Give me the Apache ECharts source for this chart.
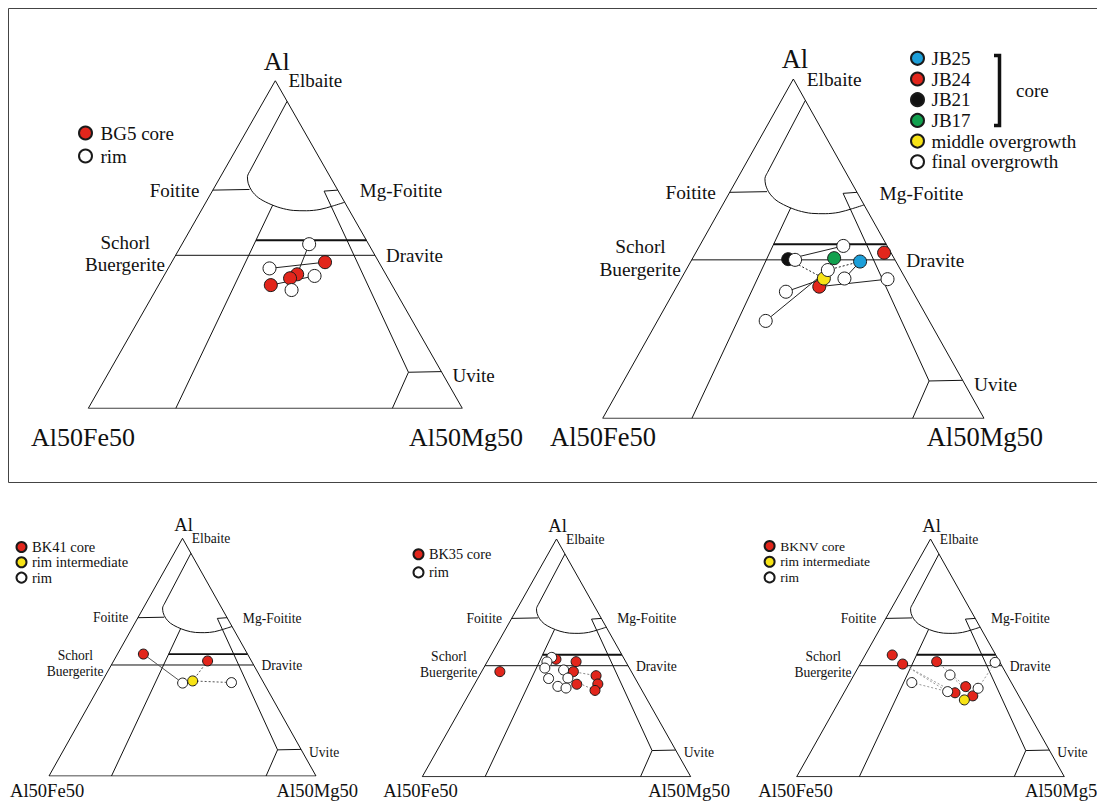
<!DOCTYPE html>
<html>
<head>
<meta charset="utf-8">
<script src="https://cdn.jsdelivr.net/npm/echarts@6/dist/echarts.min.js"></script>
<style>
html,body{margin:0;padding:0;background:#fff;}
#chart{width:1097px;height:802px;}
</style>
</head>
<body>
<div id="chart"></div>
<script>
// Tourmaline Al – Al50Fe50 – Al50Mg50 ternary diagrams.
// Every composition is written as [Al, Fe, Mg] in percent of the ternary.

// ---- corner and field names ----
const apexNames = ['Al', 'Al50Fe50', 'Al50Mg50'];
const fieldNames = ['Elbaite', 'Foitite', 'Mg-Foitite', 'Schorl', 'Buergerite', 'Dravite', 'Uvite'];

// ---- field boundaries ----
const outline = [[100, 0, 0], [0, 100, 0], [0, 0, 100], [100, 0, 0]];
const elbaiteEdge = [[93.7, 0, 6.3], [72.4, 20.6, 7.0]];
const foititeArc = [
  [72.4, 20.6, 7.0], [70.7, 22.1, 7.2], [68.7, 22.9, 8.4], [66.4, 23.1, 10.5],
  [64.3, 22.4, 13.3], [62.6, 20.6, 16.8], [61.2, 18.1, 20.7], [60.4, 15.0, 24.6],
  [60.3, 11.5, 28.2], [60.7, 7.7, 31.6], [61.8, 3.6, 34.6], [62.9, 0, 37.1]
];
const foititeTie = [[66.6, 33.4, 0], [66.8, 23.5, 9.7]];
const schorlDraviteSplit = [[62.0, 19.7, 18.3], [0, 76.6, 23.4]];
const mgFoititeTop = [[66.3, 3.8, 29.9], [66.6, 0, 33.4]];
const uviteEdge = [[66.3, 3.8, 29.9], [11.0, 8.9, 80.1]];
const uviteTop = [[11.0, 8.9, 80.1], [11.2, 0, 88.8]];
const uviteBase = [[11.0, 8.9, 80.1], [0, 18.7, 81.3]];
const upperDivide = [[51.3, 29.5, 19.2], [51.3, 0, 48.7]];
const lowerDivide = [[46.7, 53.3, 0], [46.7, 0, 53.3]];

// ---- BG5 ----
const bg5Core = [[44.6, 14.4, 41.0], [40.9, 23.7, 35.4], [39.7, 26.2, 34.1], [37.6, 32.4, 30.0]];
const bg5Rim = [[50.1, 15.9, 34.0], [42.7, 30.2, 27.1], [40.4, 19.3, 40.3], [36.1, 27.6, 36.3]];
const bg5Solid = [[bg5Rim[0], bg5Core[1]], [bg5Rim[1], bg5Core[0]], [bg5Core[3], bg5Rim[2]]];

// ---- JB series ----
const jb25Core = [[46.2, 9.4, 44.4]];
const jb24Core = [[48.8, 1.8, 49.4], [38.8, 23.8, 37.4]];
const jb21Core = [[46.9, 27.9, 25.2]];
const jb17Core = [[47.2, 15.7, 37.1]];
const jbMiddle = [[41.2, 21.4, 37.4]];
const jbFinal = [
  [50.8, 11.5, 37.7], [46.7, 26.2, 27.1], [43.7, 19.1, 37.2], [41.2, 16.0, 42.8],
  [41.0, 4.8, 54.2], [37.3, 33.3, 29.4], [28.7, 42.9, 28.4]
];
const jbSolid = [
  [jb21Core[0], jbFinal[0]], [jb17Core[0], jbFinal[2]], [jbFinal[5], jbMiddle[0]],
  [jbFinal[6], jbFinal[2]], [jb25Core[0], jbFinal[3]], [jb24Core[1], jbFinal[4]]
];
const jbDotted = [[jb21Core[0], jbMiddle[0]], [jb25Core[0], jbFinal[2]]];

// ---- BK41 ----
const bk41Core = [[51.3, 39.0, 9.7], [48.4, 16.4, 35.2]];
const bk41Inter = [[40.0, 26.2, 33.8]];
const bk41Rim = [[39.1, 30.4, 30.5], [39.3, 12.0, 48.7]];
const bk41Solid = [[bk41Core[0], bk41Rim[0]]];
const bk41Dotted = [[bk41Core[1], bk41Inter[0]], [bk41Inter[0], bk41Rim[1]]];

// ---- BK35 ----
const bk35Core = [
  [44.2, 49.0, 6.8], [49.4, 25.5, 25.1], [48.4, 18.5, 33.1], [44.2, 21.6, 34.2],
  [42.5, 14.0, 43.5], [39.0, 15.1, 45.9], [36.3, 17.5, 46.2], [38.9, 23.0, 38.1]
];
const bk35Rim = [
  [50.2, 26.7, 23.1], [48.3, 29.4, 22.3], [45.7, 31.5, 22.8], [44.9, 24.9, 30.2],
  [41.3, 32.3, 26.4], [41.5, 25.0, 33.5], [38.0, 30.5, 31.5], [37.3, 27.8, 34.9]
];
const bk35Dotted = [[bk35Rim[3], bk35Core[4]], [bk35Rim[5], bk35Core[6]]];

// ---- BKNV ----
const bknvCore = [
  [51.2, 38.7, 10.1], [47.4, 36.7, 15.9], [48.4, 23.5, 28.1],
  [37.9, 17.9, 44.2], [35.3, 23.2, 41.5], [34.0, 17.2, 48.8]
];
const bknvInter = [[32.3, 21.2, 46.5]];
const bknvRim = [[48.1, 1.8, 50.1], [42.8, 21.3, 35.9], [39.6, 37.2, 23.2], [35.8, 25.7, 38.5], [37.2, 13.6, 49.2]];
const bknvDotted = [
  [bknvCore[1], bknvRim[3]], [bknvCore[1], bknvCore[4]], [bknvCore[2], bknvCore[3]],
  [bknvRim[2], bknvRim[3]], [bknvRim[1], bknvCore[5]], [bknvRim[4], bknvRim[0]]
];

// ---- styling ----
const FONT = 'Liberation Serif, Times New Roman, serif';
const INK = '#111111';
const RED = '#e2261c', BLUE = '#1c9fd9', BLACK = '#111111', GREEN = '#12a04e', YELLOW = '#f7e316', WHITE = '#ffffff';

// panel layout: triangle bounding box [left, top, width, height] in px
const panels = [
  {
    box: [88.3, 80.7, 374, 327.6], sym: 13,
    corners: { fe: [31, 437], mg: [523, 437] },
    groups: [
      { name: 'BG5 core', pts: bg5Core, color: RED },
      { name: 'rim', pts: bg5Rim, color: WHITE }
    ],
    solid: bg5Solid, dotted: [], tieColor: '#222',
    legend: { left: 78, top: 123.5, w: 20, h: 13, gap: 4, size: 19 }
  },
  {
    box: [602.7, 79, 381.3, 339.3], sym: 13,
    corners: { fe: [550, 437], mg: [1043, 437] },
    groups: [
      { name: 'JB25', pts: jb25Core, color: BLUE },
      { name: 'JB24', pts: jb24Core, color: RED },
      { name: 'JB21', pts: jb21Core, color: BLACK },
      { name: 'JB17', pts: jb17Core, color: GREEN },
      { name: 'middle overgrowth', pts: jbMiddle, color: YELLOW },
      { name: 'final overgrowth', pts: jbFinal, color: WHITE }
    ],
    solid: jbSolid, dotted: jbDotted, tieColor: '#222',
    legend: { left: 910, top: 48.8, w: 18, h: 13, gap: 1.7, size: 19 }
  },
  {
    box: [49, 538.3, 267, 237.7], sym: 10,
    corners: { fe: [10, 790], mg: [358, 790] },
    groups: [
      { name: 'BK41 core', pts: bk41Core, color: RED },
      { name: 'rim intermediate', pts: bk41Inter, color: YELLOW },
      { name: 'rim', pts: bk41Rim, color: WHITE }
    ],
    solid: bk41Solid, dotted: bk41Dotted, tieColor: '#555',
    legend: { left: 15.5, top: 539.5, w: 11, h: 10, gap: 0.3, size: 14.5 }
  },
  {
    box: [422.3, 539, 268.4, 237.7], sym: 10,
    corners: { fe: [383.3, 790], mg: [730, 790] },
    groups: [
      { name: 'BK35 core', pts: bk35Core, color: RED },
      { name: 'rim', pts: bk35Rim, color: WHITE }
    ],
    solid: [], dotted: bk35Dotted, tieColor: '#888',
    legend: { left: 412.5, top: 547.2, w: 11, h: 10, gap: 4.2, size: 14.3 }
  },
  {
    box: [796.7, 539, 267.6, 237.7], sym: 10,
    corners: { fe: [758.3, 790], mg: [1025, 790], mgAlign: 'left' },
    groups: [
      { name: 'BKNV core', pts: bknvCore, color: RED },
      { name: 'rim intermediate', pts: bknvInter, color: YELLOW },
      { name: 'rim', pts: bknvRim, color: WHITE }
    ],
    solid: [], dotted: bknvDotted, tieColor: '#999',
    legend: { left: 763.6, top: 539, w: 11.4, h: 10, gap: 1.7, size: 13.5 }
  }
];

// where each field name sits, as fractions of the triangle box
const fieldSpots = [
  { name: fieldNames[0], u: 0.535, v: 0.0, align: 'left' },
  { name: fieldNames[1], u: 0.297, v: 0.334, align: 'right' },
  { name: fieldNames[2], u: 0.726, v: 0.336, align: 'left' },
  { name: fieldNames[3], u: 0.099, v: 0.494, align: 'center' },
  { name: fieldNames[4], u: 0.098, v: 0.561, align: 'center' },
  { name: fieldNames[5], u: 0.796, v: 0.535, align: 'left' },
  { name: fieldNames[6], u: 0.974, v: 0.9, align: 'left' }
];

// [Al, Fe, Mg] -> [x, y] in the unit triangle (Al50Fe50 at 0,0; Al50Mg50 at 1,0; Al at 0.5,1)
function xy(p) {
  const s = p[0] + p[1] + p[2];
  return [(p[2] + p[0] / 2) / s, p[0] / s];
}

const grid = [], xAxis = [], yAxis = [], series = [], legend = [], graphic = [];

function text(str, x, y, size, align) {
  return {
    type: 'text', x: x, y: y, silent: true, z: 10,
    style: { text: str, fontFamily: FONT, fontSize: size, fill: '#111', align: align, verticalAlign: 'middle' }
  };
}

panels.forEach(function (p, i) {
  const L = p.box[0], T = p.box[1], W = p.box[2], H = p.box[3];
  const k = W / 374;
  grid.push({ left: L, top: T, width: W, height: H, containLabel: false });
  xAxis.push({ type: 'value', gridIndex: i, min: 0, max: 1, show: false });
  yAxis.push({ type: 'value', gridIndex: i, min: 0, max: 1, show: false });

  const thin = { color: INK, width: 1, opacity: 1 };
  // straight field boundaries
  series.push({
    type: 'lines', coordinateSystem: 'cartesian2d', xAxisIndex: i, yAxisIndex: i,
    polyline: true, silent: true, z: 1, lineStyle: thin,
    data: [outline, elbaiteEdge, foititeTie, schorlDraviteSplit, mgFoititeTop, uviteEdge,
      uviteTop, uviteBase, lowerDivide].map(function (b) { return { coords: b.map(xy) }; })
      .concat([{ coords: upperDivide.map(xy), lineStyle: { color: INK, width: 1.8, opacity: 1 } }])
  });
  // curved foitite field boundary
  series.push({
    type: 'line', xAxisIndex: i, yAxisIndex: i, silent: true, z: 1,
    smooth: 0.3, showSymbol: false, symbol: 'none', lineStyle: thin,
    data: foititeArc.map(xy)
  });
  // core-to-rim tie lines
  if (p.solid.length) {
    series.push({
      type: 'lines', coordinateSystem: 'cartesian2d', xAxisIndex: i, yAxisIndex: i,
      silent: true, z: 2, lineStyle: { color: p.tieColor, width: 1, type: 'solid', opacity: 1 },
      data: p.solid.map(function (s) { return { coords: s.map(xy) }; })
    });
  }
  if (p.dotted.length) {
    series.push({
      type: 'lines', coordinateSystem: 'cartesian2d', xAxisIndex: i, yAxisIndex: i,
      silent: true, z: 2, lineStyle: { color: p.tieColor, width: 1, type: [2, 2], opacity: 1 },
      data: p.dotted.map(function (s) { return { coords: s.map(xy) }; })
    });
  }
  // analyses
  p.groups.forEach(function (g) {
    series.push({
      type: 'scatter', name: g.name, xAxisIndex: i, yAxisIndex: i, z: 3,
      symbol: 'circle', symbolSize: p.sym,
      itemStyle: { color: g.color, borderColor: '#1a1a1a', borderWidth: 1, opacity: 1 },
      data: g.pts.map(xy)
    });
  });
  legend.push({
    orient: 'vertical', left: p.legend.left, top: p.legend.top, padding: 0,
    itemWidth: p.legend.w, itemHeight: p.legend.h, itemGap: p.legend.gap,
    selectedMode: false,
    textStyle: { fontFamily: FONT, fontSize: p.legend.size, color: '#111' },
    data: p.groups.map(function (g) { return { name: g.name, icon: 'circle' }; })
  });

  // names
  graphic.push(text(apexNames[0], L + 0.504 * W, T - 0.058 * H, 26 * k, 'center'));
  graphic.push(text(apexNames[1], p.corners.fe[0], p.corners.fe[1], 26 * k, 'left'));
  graphic.push(text(apexNames[2], p.corners.mg[0], p.corners.mg[1], 26 * k, p.corners.mgAlign || 'right'));
  fieldSpots.forEach(function (f) {
    graphic.push(text(f.name, L + f.u * W, T + f.v * H, 19 * k, f.align));
  });
});

// frame round the upper pair of diagrams
graphic.push({
  type: 'rect', silent: true, z: 0,
  shape: { x: 8.5, y: 8.5, width: 1100, height: 474 },
  style: { fill: 'none', stroke: '#444', lineWidth: 1 }
});
// bracket grouping the JB cores
graphic.push({
  type: 'polyline', silent: true, z: 10,
  shape: { points: [[994, 55.5], [999.5, 55.5], [999.5, 125.5], [994, 125.5]] },
  style: { fill: 'none', stroke: '#111', lineWidth: 3.5 }
});
graphic.push(text('core', 1016, 90, 19, 'left'));

const chart = echarts.init(document.getElementById('chart'), null, { renderer: 'svg' });
chart.setOption({
  animation: false,
  backgroundColor: '#fff',
  grid: grid, xAxis: xAxis, yAxis: yAxis,
  legend: legend,
  series: series,
  graphic: graphic
});
</script>
</body>
</html>
